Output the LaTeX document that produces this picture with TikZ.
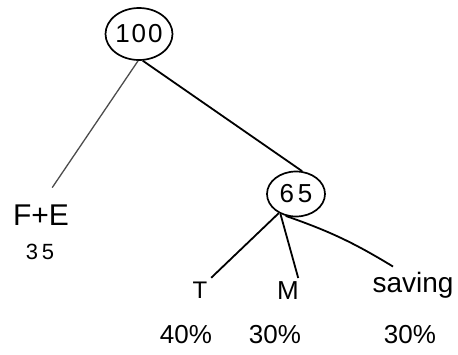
\documentclass[tikz,border=0pt]{standalone}
\usepackage{fontspec}
\setmainfont{Liberation Sans}
\usetikzlibrary{shapes.geometric}
\newcommand{\fsz}[1]{\fontsize{#1pt}{#1pt}\selectfont}
\begin{document}
\begin{tikzpicture}[x=1pt,y=-1pt,
  bubble/.style={ellipse,draw,line width=1.7pt,inner sep=0pt},
  lab/.style={inner sep=0pt,anchor=base},
  edge/.style={line width=1.8pt}]
\useasboundingbox (0,0) rectangle (458,354);
\node[bubble,minimum width=66pt,minimum height=52pt,font=\fsz{26}] (root) at (139,34) {1\hspace{2pt}0\hspace{2pt}0};
\node[bubble,minimum width=58pt,minimum height=45pt,font=\fsz{26}] (n65) at (296,194) {6\hspace{4pt}5};
\node[lab,font=\fsz{30}] (fe) at (41,225) {F+E};
\node[lab,font=\fsz{22}] (fe35) at (40,259) {3\hspace{4pt}5};
\node[lab,font=\fsz{24}] (t) at (200,298) {T};
\node[lab,font=\fsz{26}] (m) at (288,299) {M};
\node[lab,font=\fsz{28}] (sav) at (413,292) {saving};
\node[lab,font=\fsz{26}] (pt) at (186,343) {40\%};
\node[lab,font=\fsz{26}] (pm) at (275,343) {30\%};
\node[lab,font=\fsz{26}] (ps) at (410,343) {30\%};
\draw[edge,black!70,line width=1.3pt,shorten >=20pt] (root.268) -- (fe.north);
\draw[edge] (root.278) -- (n65.75);
\draw[edge,shorten >=5pt] (n65.228) -- (t.north east);
\draw[edge,shorten >=3pt] (n65.232) -- (m.north east);
\draw[edge] (n65.245) to[bend left=6] ([xshift=-20pt,yshift=5pt]sav.north);
\end{tikzpicture}
\end{document}
